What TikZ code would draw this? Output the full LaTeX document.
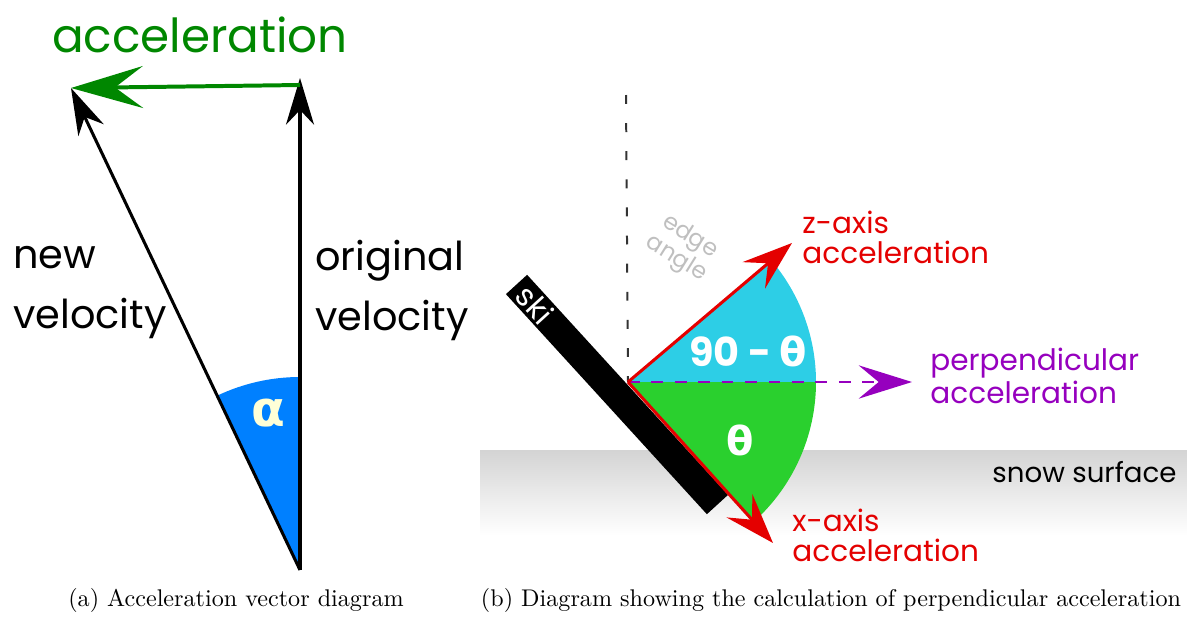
\documentclass[tikz,border=0pt]{standalone}
\usepackage{fontspec}
\usetikzlibrary{arrows.meta}
\newfontfamily\futfont{Poppins}
\newfontfamily\grkfont{DejaVu Sans}
\definecolor{accgreen}{RGB}{0,135,0}
\definecolor{wedgeblue}{RGB}{0,128,255}
\definecolor{alphacream}{RGB}{255,255,215}
\definecolor{zcyan}{RGB}{45,206,230}
\definecolor{xgreen}{RGB}{42,208,46}
\definecolor{axisred}{RGB}{228,0,0}
\definecolor{perppurple}{RGB}{150,0,190}
\begin{document}
\begin{tikzpicture}[x=0.015cm,y=0.015cm,
  vec/.style={line width=1.3pt,-{Stealth[length=0.7cm,width=0.42cm,inset=0.22cm]}},
  axisvec/.style={line width=1.3pt,axisred,-{Stealth[length=0.75cm,width=0.52cm,inset=0.28cm]}},
  lbl/.style={font=\futfont\fontsize{17}{25.6}\selectfont,anchor=base west,align=left,inner sep=0pt},
  redlbl/.style={font=\futfont\fontsize{12.6}{12.8}\selectfont,axisred,anchor=base west,align=left,inner sep=0pt}]
\useasboundingbox (0,0) rectangle (1187,617);
% (a) velocity triangle
\coordinate (apex) at (300,47); \coordinate (origtip) at (300,539); \coordinate (newtip) at (71,529); \coordinate (accstart) at (300,532);
\fill[wedgeblue] (apex) -- ++(90:2.895cm) arc[start angle=90,end angle=115.3,radius=2.895cm] -- cycle;
\node[alphacream,font=\grkfont\bfseries\fontsize{21}{21}\selectfont] (alpha) at (268,204) {α};
\draw[vec] (apex) -- (origtip); \draw[vec] (apex) -- (newtip);
\draw[accgreen,line width=1.7pt,-{Stealth[length=1.08cm,width=0.63cm,inset=0.42cm]}] (accstart) -- (newtip);
\node[accgreen,font=\futfont\fontsize{20}{20}\selectfont,anchor=base] (acclabel) at (200,565) {acceleration};
\node[lbl] (newlabel) at (13,289) {new\\velocity};
\node[lbl] (origlabel) at (315,287) {original\\velocity};
% (b) ski edge
\shade[top color=black!17,bottom color=white] (480,82) rectangle (1187,167);
\node[font=\futfont\fontsize{11.8}{11.8}\selectfont,anchor=base west,inner sep=0pt] (snow) at (992,135) {snow surface};
\coordinate (pivot) at (628,235); \coordinate (vtop) at (626,522);
\coordinate (ztip) at (792,374); \coordinate (xtip) at (773,74); \coordinate (ptip) at (912,235);
\fill[zcyan] (pivot) -- ++(0:2.82cm) arc[start angle=0,end angle=40.3,radius=2.82cm] -- cycle;
\fill[xgreen] (pivot) -- ++(0:2.82cm) arc[start angle=0,end angle=-48,radius=2.82cm] -- cycle;
\node[fill=black,rotate=-47.6,minimum width=4.47cm,minimum height=0.43cm,inner sep=0pt] (ski) at (617,222.5) {};
\node[white,rotate=-47.6,anchor=west,font=\futfont\fontsize{13}{13}\selectfont] (skilabel) at (ski.west) {ski};
\draw[line width=0.85pt,black!80,dash pattern=on 3.8pt off 8.2pt] (vtop) -- (pivot);
\node[black!25,rotate=-32,align=center,font=\futfont\fontsize{10}{10}\selectfont] (edgeangle) at (683,369) {edge\\angle};
\draw[perppurple,line width=1.1pt,dash pattern=on 5pt off 5pt,-{Stealth[length=0.8cm,width=0.5cm,inset=0.3cm]}] (pivot) -- (ptip);
\draw[axisvec] (pivot) -- (ztip); \draw[axisvec] (pivot) -- (xtip);
\node[white,font=\futfont\bfseries\fontsize{17}{17}\selectfont] (comp) at (748,266) {90 - {\grkfont θ}};
\node[white,font=\grkfont\bfseries\fontsize{17}{17}\selectfont] (theta) at (740,177) {θ};
\node[redlbl] (zlabel) at (802,354) {z-axis\\acceleration};
\node[redlbl] (xlabel) at (792,56) {x-axis\\acceleration};
\node[redlbl,perppurple] (plabel) at (930,214) {perpendicular\\acceleration};
% captions
\node[font=\fontsize{10.3}{12.5}\selectfont] (capa) at (236,17) {(a) Acceleration vector diagram};
\node[font=\fontsize{10.3}{12.5}\selectfont] (capb) at (831,17) {(b) Diagram showing the calculation of perpendicular acceleration};
\end{tikzpicture}
\end{document}
